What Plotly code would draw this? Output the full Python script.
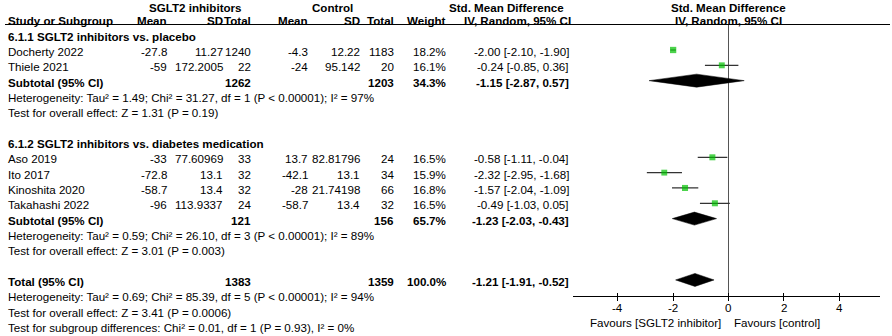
import plotly.graph_objects as go

# ---------------- data ----------------
studies = ["Docherty 2022", "Thiele 2021", "Aso 2019", "Ito 2017", "Kinoshita 2020", "Takahashi 2022"]
exp_mean = ["-27.8", "-59", "-33", "-72.8", "-58.7", "-96"]
exp_sd = ["11.27", "172.2005", "77.60969", "13.1", "13.4", "113.9337"]
exp_n = [1240, 22, 33, 32, 32, 24]
ctl_mean = ["-4.3", "-24", "13.7", "-42.1", "-28", "-58.7"]
ctl_sd = ["12.22", "95.142", "82.81796", "13.1", "21.74198", "13.4"]
ctl_n = [1183, 20, 24, 34, 66, 32]
weight = [18.2, 16.1, 16.5, 15.9, 16.8, 16.5]
smd = [-2.00, -0.24, -0.58, -2.32, -1.57, -0.49]
ci_lo = [-2.10, -0.85, -1.11, -2.95, -2.04, -1.03]
ci_hi = [-1.90, 0.36, -0.04, -1.68, -1.09, 0.05]

group_titles = ["6.1.1 SGLT2 inhibitors vs. placebo", "6.1.2 SGLT2 inhibitors vs. diabetes medication"]
pooled_labels = ["Subtotal (95% CI)", "Subtotal (95% CI)", "Total (95% CI)"]
pooled_exp_n = [1262, 121, 1383]
pooled_ctl_n = [1203, 156, 1359]
pooled_weight = ["34.3%", "65.7%", "100.0%"]
pooled_smd = [-1.15, -1.23, -1.21]
pooled_lo = [-2.87, -2.03, -1.91]
pooled_hi = [0.57, -0.43, -0.52]
heterogeneity = [
    "Heterogeneity: Tau² = 1.49; Chi² = 31.27, df = 1 (P < 0.00001); I² = 97%",
    "Heterogeneity: Tau² = 0.59; Chi² = 26.10, df = 3 (P < 0.00001); I² = 89%",
    "Heterogeneity: Tau² = 0.69; Chi² = 85.39, df = 5 (P < 0.00001); I² = 94%",
]
overall = [
    "Test for overall effect: Z = 1.31 (P = 0.19)",
    "Test for overall effect: Z = 3.01 (P = 0.003)",
    "Test for overall effect: Z = 3.41 (P = 0.0006)",
]
subgroup_test = "Test for subgroup differences: Chi² = 0.01, df = 1 (P = 0.93), I² = 0%"
tick_vals = [-4, -2, 0, 2, 4]
tick_text = ["-4", "-2", "0", "2", "4"]

# ---------------- layout constants ----------------
W, H = 892, 336
ROW0, ROWH = 4.0, 15.33          # pixel centre of row 0, row pitch
TEXT_DY = 1.5                    # text sits slightly lower than the marks
AXIS_PX, HEAD_PX = 295.5, 24.5   # forest axis line and header rule (pixels from top)
PLOT_L, PLOT_R = 573, 880
X_MIN, X_MAX = -5.62, 5.48
FONT = "Liberation Sans, Arial, sans-serif"
FS = 11.6
GREEN = "#00c000"

def row_of_px(p):
    return (p - ROW0) / ROWH

study_rows = [3, 4, 10, 11, 12, 13]
group_rows = [2, 9]
pooled_rows = [5, 14, 18]
het_rows = [6, 15, 19]
overall_rows = [7, 16, 20]
subgroup_row = 21

X_STUDY = 8
COLS = {"em": 166.5, "esd": 222.7, "en": 250.5, "cm": 307.5, "csd": 360, "cn": 394, "w": 445.7, "ci": 568.5}

anns = []
DY = TEXT_DY / ROWH

def txt(x_px, row, s, anchor="left", bold=False, xref="paper"):
    anns.append(dict(
        x=(x_px / W) if xref == "paper" else x_px, xref=xref, y=row + DY, yref="y2",
        text=("<b>%s</b>" % s) if bold else s,
        xanchor=anchor, yanchor="middle", showarrow=False, borderpad=0, borderwidth=0,
        font=dict(family=FONT, size=FS, color="#000000"),
    ))

txt(195, 0.1, "SGLT2 inhibitors", "center", True)
txt(332, 0.1, "Control", "center", True)
txt(506.5, 0.1, "Std. Mean Difference", "center", True)
txt(728.5, 0.1, "Std. Mean Difference", "center", True)
txt(X_STUDY, 1, "Study or Subgroup", "left", True)
for key, lab in [("em", "Mean"), ("esd", "SD"), ("en", "Total"), ("cm", "Mean"),
                 ("csd", "SD"), ("cn", "Total"), ("w", "Weight")]:
    txt(COLS[key], 1, lab, "right", True)
txt(571, 1, "IV, Random, 95% CI", "right", True)
txt(728.5, 1, "IV, Random, 95% CI", "center", True)

for r, t in zip(group_rows, group_titles):
    txt(X_STUDY, r, t, "left", True)

def ci_str(e, l, h):
    return "%.2f [%.2f, %.2f]" % (e, l, h)

for i, r in enumerate(study_rows):
    txt(X_STUDY, r, studies[i])
    txt(COLS["em"], r, exp_mean[i], "right")
    txt(COLS["esd"], r, exp_sd[i], "right")
    txt(COLS["en"], r, str(exp_n[i]), "right")
    txt(COLS["cm"], r, ctl_mean[i], "right")
    txt(COLS["csd"], r, ctl_sd[i], "right")
    txt(COLS["cn"], r, str(ctl_n[i]), "right")
    txt(COLS["w"], r, "%.1f%%" % weight[i], "right")
    txt(COLS["ci"], r, ci_str(smd[i], ci_lo[i], ci_hi[i]), "right")

for k, r in enumerate(pooled_rows):
    txt(X_STUDY, r, pooled_labels[k], "left", True)
    txt(COLS["en"], r, str(pooled_exp_n[k]), "right", True)
    txt(COLS["cn"], r, str(pooled_ctl_n[k]), "right", True)
    txt(COLS["w"], r, pooled_weight[k], "right", True)
    txt(COLS["ci"], r, ci_str(pooled_smd[k], pooled_lo[k], pooled_hi[k]), "right", True)
    txt(X_STUDY, het_rows[k], heterogeneity[k])
    txt(X_STUDY, overall_rows[k], overall[k])
txt(X_STUDY, subgroup_row, subgroup_test)

# axis tick labels (placed on the forest x scale) and favours labels
tick_row = row_of_px(307.5) - DY
for tv, tt in zip(tick_vals, tick_text):
    txt(tv, tick_row, tt, "center", xref="x")
fav_row = row_of_px(322.5) - DY
txt(721, fav_row, "Favours [SGLT2 inhibitor]", "right")
txt(734, fav_row, "Favours [control]", "left")

fig = go.Figure()

fig.add_trace(go.Scatter(
    x=smd, y=study_rows, mode="markers",
    marker=dict(symbol="square", color=GREEN, size=[6 * (w / 16.5) ** 0.5 for w in weight], line=dict(width=0)),
    error_x=dict(type="data", symmetric=False,
                 array=[h - e for h, e in zip(ci_hi, smd)],
                 arrayminus=[e - l for e, l in zip(smd, ci_lo)],
                 color="#333333", thickness=1.2, width=0),
    cliponaxis=False, hoverinfo="skip", showlegend=False,
))

HALF = 6.5 / ROWH
for k, r in enumerate(pooled_rows):
    e, l, h = pooled_smd[k], pooled_lo[k], pooled_hi[k]
    fig.add_trace(go.Scatter(
        x=[l, e, h, e, l], y=[r, r - HALF, r, r + HALF, r],
        mode="lines", fill="toself", fillcolor="#000000",
        line=dict(color="#000000", width=0.5), hoverinfo="skip", showlegend=False,
    ))

fig.add_trace(go.Scatter(x=[0], y=[0], xaxis="x2", yaxis="y2", mode="markers",
                         marker=dict(opacity=0), hoverinfo="skip", showlegend=False))

fig.update_layout(
    width=W, height=H, margin=dict(l=0, r=0, t=0, b=0, pad=0),
    paper_bgcolor="white", plot_bgcolor="rgba(0,0,0,0)",
    font=dict(family=FONT, size=FS, color="#000000"),
    xaxis=dict(domain=[PLOT_L / W, PLOT_R / W], range=[X_MIN, X_MAX],
               showgrid=False, zeroline=True, zerolinecolor="#555555", zerolinewidth=1,
               showline=True, linecolor="#000000", linewidth=1,
               tickmode="array", tickvals=tick_vals, showticklabels=False,
               ticks="outside", ticklen=4, tickwidth=1, tickcolor="#000000",
               minor=dict(tickmode="array", tickvals=tick_vals, ticks="inside", ticklen=3,
                          tickwidth=1, tickcolor="#000000", showgrid=False),
               anchor="y", fixedrange=True),
    yaxis=dict(domain=[(H - AXIS_PX) / H, (H - HEAD_PX) / H],
               range=[row_of_px(AXIS_PX), row_of_px(HEAD_PX)],
               visible=False, showgrid=False, zeroline=False, fixedrange=True),
    xaxis2=dict(domain=[0, 1], range=[0, W], visible=False, anchor="y2"),
    yaxis2=dict(domain=[0, 1], range=[row_of_px(H), row_of_px(0)], visible=False, anchor="x2"),
    annotations=anns,
    shapes=[dict(type="line", xref="paper", yref="paper", x0=5 / W, x1=890 / W,
                 y0=(H - HEAD_PX) / H, y1=(H - HEAD_PX) / H,
                 line=dict(color="#000000", width=1))],
)

fig.write_html("out.html", config={"displayModeBar": False},
               post_script="document.body.style.margin='0';document.body.style.overflow='hidden';")
